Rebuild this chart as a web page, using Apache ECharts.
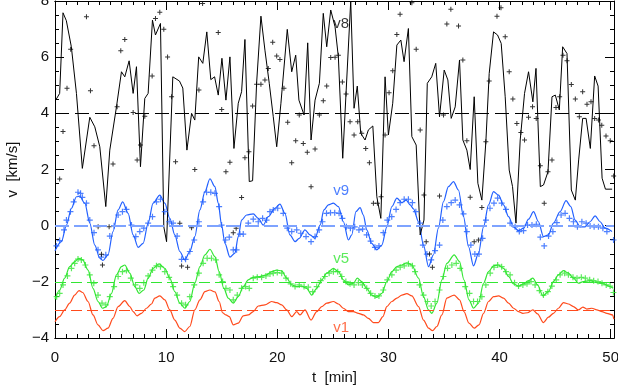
<!DOCTYPE html>
<html>
<head>
<meta charset="utf-8">
<script src="https://cdn.jsdelivr.net/npm/echarts@6/dist/echarts.min.js"></script>
<style>
  html, body { margin: 0; padding: 0; background: #fff; }
  #chart { width: 618px; height: 386px; }
</style>
</head>
<body>
<div id="chart"></div>
<script>
// time axis [min] and velocity axis [km/s]
const xTicks = [0, 10, 20, 30, 40, 50];
const yTicks = [-4, -2, 0, 2, 4, 6, 8];
const baselines = [4, 0, -2, -3]; // v8, v9, v5, v1 reference levels

// v8 (black): line + crosses
const v8Line = [
  [0.06,4.47],[0.42,4.71],[0.72,7.58],[1.02,7.3],[1.47,6.37],[1.93,4.71],[2.46,2.04],[3.13,3.86],
  [3.58,3.52],[4.03,2.81],[4.57,0.68],[4.93,2.69],[5.53,4.23],[5.98,5.48],[6.28,5.3],[6.67,5.87],
  [7.03,4.71],[7.33,5.66],[7.69,2.1],[8.08,4.53],[8.38,4.71],[8.77,7.32],[9.04,6.79],[9.49,7.2],
  [9.79,-0.04],[10.04,-0.57],[10.6,5.3],[11.2,5.15],[11.5,4.9],[11.87,2.69],[12.29,4.0],[12.58,3.76],
  [12.93,6.01],[13.3,5.78],[13.66,6.9],[14.02,5.2],[14.36,5.3],[14.69,4.65],[15.02,5.96],[15.38,4.47],
  [15.74,6.01],[16.1,2.75],[16.49,4.36],[16.79,4.77],[17.09,6.63],[17.48,1.57],[17.78,1.6],[18.14,5.07],
  [18.53,7.46],[18.89,6.25],[19.28,5.07],[19.64,3.88],[19.95,2.81],[20.33,4.36],[20.9,6.99],[21.3,5.48],
  [21.66,6.07],[21.95,4.47],[22.41,3.94],[22.74,6.51],[23.04,3.05],[23.4,4.47],[23.79,5.07],[24.14,7.56],
  [24.45,6.37],[24.81,7.68],[25.2,7.08],[25.5,6.0],[25.89,2.4],[26.61,8.0],[26.91,4.18],[27.2,4.97],
  [27.51,3.29],[27.9,3.05],[28.2,3.41],[28.6,3.55],[28.96,1.03],[29.32,0.26],[29.7,5.3],[30.0,3.23],
  [30.39,4.36],[30.76,6.43],[31.12,6.61],[31.41,5.84],[31.8,7.02],[32.11,3.17],[32.5,2.87],[32.86,-0.33],
  [33.2,0.2],[33.5,5.07],[33.9,5.3],[34.26,5.78],[34.6,3.88],[35.02,5.54],[35.35,5.19],[35.65,3.82],
  [36.01,4.23],[36.4,5.9],[36.7,3.05],[37.06,2.69],[37.36,2.0],[37.72,4.59],[38.05,1.51],[38.41,0.91],
  [38.77,2.99],[39.07,5.42],[39.46,6.9],[39.82,6.79],[40.15,6.49],[40.51,4.59],[40.87,1.98],[41.17,1.39],
  [41.48,0.09],[41.86,3.05],[42.25,4.71],[42.61,5.48],[43.0,4.41],[43.28,5.6],[43.67,1.39],[43.96,1.45],
  [44.36,1.92],[44.72,4.59],[45.02,4.65],[45.38,4.12],[45.68,6.37],[46.07,6.13],[46.46,1.27],[46.82,0.91],
  [47.12,2.34],[47.48,3.82],[47.79,3.82],[48.17,2.75],[48.56,5.33],[48.87,4.97],[49.23,1.69],[49.53,1.3],
  [50.13,1.3]
];
const v8Dots = [
  [0.42,1.66],[0.72,3.35],[1.08,4.89],[1.41,6.28],[2.83,7.44],[3.19,4.8],[3.51,2.85],[3.88,-0.04],
  [4.18,-1.02],[4.27,-1.4],[4.87,-0.04],[5.22,2.2],[5.59,4.23],[5.92,6.23],[6.28,6.63],[7.03,4.03],
  [7.39,2.34],[7.69,2.87],[8.08,3.9],[8.74,5.33],[9.04,7.38],[9.43,7.6],[9.79,6.99],[10.13,6.01],
  [10.49,4.59],[10.85,2.28],[11.23,0.09],[11.39,-1.44],[11.93,-1.48],[12.29,-0.07],[12.58,2.0],[12.95,4.83],
  [13.28,7.91],[14.69,6.88],[15.0,4.14],[15.38,1.92],[15.74,2.26],[16.04,-0.25],[16.3,-0.09],[16.79,1.0],
  [17.09,2.42],[17.45,2.63],[17.78,4.26],[18.14,5.04],[18.53,5.04],[18.89,5.19],[19.19,5.6],[19.59,6.53],
  [19.95,6.04],[20.24,5.92],[20.6,4.89],[20.94,3.68],[21.3,2.24],[21.66,3.02],[21.98,3.94],[22.34,2.93],
  [22.7,2.61],[23.04,1.39],[23.4,2.73],[23.79,3.94],[24.14,4.45],[24.45,4.97],[24.81,5.99],[25.2,6.0],
  [25.5,6.07],[25.86,5.12],[26.19,4.69],[26.55,3.7],[26.91,3.23],[27.24,3.7],[27.6,3.29],[27.96,2.75],
  [28.29,2.24],[28.65,0.8],[29.01,0.8],[29.34,1.03],[29.7,3.23],[30.06,4.73],[30.39,5.52],[30.76,6.81],
  [31.05,7.53],[32.11,7.94],[32.5,6.28],[32.86,3.41],[33.2,1.09],[33.4,-0.57],[33.7,-1.01],[33.96,-1.48],
  [34.6,1.06],[34.96,3.94],[35.26,7.18],[35.62,7.71],[36.31,7.11],[36.7,5.9],[37.06,3.02],[37.36,1.01],
  [37.72,-0.57],[38.1,-0.51],[38.41,0.65],[38.77,2.99],[39.07,5.15],[39.77,7.46],[40.13,7.76],[40.51,6.73],
  [40.87,5.48],[41.2,4.51],[41.56,3.64],[41.92,3.32],[42.25,3.05],[42.61,3.86],[42.97,4.23],[43.3,3.82],
  [43.67,2.13],[44.02,0.8],[44.36,1.92],[44.72,2.34],[45.08,4.21],[45.41,4.59],[45.71,6.07],[46.07,5.87],
  [46.46,5.03],[46.82,4.51],[47.18,3.88],[47.48,4.77],[47.87,4.32],[48.23,4.41],[48.56,3.82],[48.9,3.76],
  [49.2,3.58],[49.58,3.19],[49.96,3.02],[50.27,1.77]
];

// v9 (blue)
const v9Line = [
  [0,-0.89],[0.58,-0.57],[1.03,0.02],[1.48,0.62],[1.93,1.03],[2.23,1.05],[2.68,0.8],[3.13,0.09],
  [3.58,-0.69],[4.03,-1.16],[4.32,-1.24],[4.77,-1.04],[5.22,-0.21],[5.68,0.56],[6.09,0.85],[6.58,0.44],
  [7.03,-0.33],[7.48,-0.77],[7.93,-0.63],[8.38,0.09],[8.83,0.8],[9.43,1.09],[9.88,0.8],[10.33,0.26],
  [10.78,-0.33],[11.23,-0.92],[11.68,-1.22],[12.13,-0.92],[12.58,-0.39],[13.04,0.56],[13.49,1.21],[13.94,1.67],
  [14.39,1.39],[14.69,0.8],[14.99,0.02],[15.29,-0.63],[15.74,-1.12],[16.19,-0.98],[16.49,-0.39],[16.79,0.2],
  [17.24,0.38],[17.84,0.42],[18.29,0.26],[18.74,0.02],[19.19,0.32],[19.79,0.62],[20.24,0.77],[20.69,0.44],
  [21.14,-0.33],[21.6,-0.57],[21.98,-0.45],[22.49,-0.15],[22.95,-0.33],[23.4,-0.45],[23.85,0.02],[24.2,0.56],
  [24.6,0.74],[25.05,0.8],[25.5,0.68],[25.95,0.14],[26.4,-0.51],[26.7,-0.33],[27.08,0.5],[27.45,0.64],
  [27.75,0.38],[28.05,-0.15],[28.5,-0.63],[28.96,-0.86],[29.41,-0.69],[29.86,-0.04],[30.31,0.68],[30.76,0.98],
  [31.21,0.82],[31.6,0.91],[31.96,0.74],[32.26,0.6],[32.71,0.14],[33.16,-0.69],[33.61,-1.46],[34.05,-1.04],
  [34.5,-0.09],[34.95,0.85],[35.4,1.39],[35.86,1.57],[36.3,1.27],[36.76,0.32],[37.21,-0.75],[37.66,-1.43],
  [38.11,-0.98],[38.56,-0.04],[39.01,0.74],[39.46,1.21],[39.91,1.09],[40.36,0.74],[40.81,0.32],[41.26,-0.04],
  [41.71,-0.18],[42.16,-0.09],[42.61,0.23],[43.06,0.5],[43.5,0.14],[43.95,-0.39],[44.4,-0.33],[44.85,0.09],
  [45.45,0.5],[45.99,0.89],[46.41,0.68],[46.8,0.2],[47.26,-0.04],[47.7,-0.04],[48.15,0.14],[48.6,0.35],
  [49.05,0.14],[49.5,-0.09],[50.12,-0.21]
];
const v9Dots = [
  [0.13,-0.72],[0.42,-0.53],[0.81,-0.15],[1.03,0.2],[1.39,0.5],[1.68,0.85],[2.07,1.19],[2.3,1.15],
  [2.46,1.01],[2.83,0.8],[3.13,0.2],[3.51,-0.25],[3.87,-0.86],[4.17,-1.12],[4.57,-1.04],[4.93,-0.37],
  [5.32,0.0],[5.68,0.38],[6.07,0.5],[6.43,0.58],[6.88,0.02],[7.27,-0.39],[7.63,-0.21],[7.99,-0.09],
  [8.38,0.09],[8.77,0.32],[9.13,0.85],[9.49,0.94],[9.88,0.5],[10.27,0.14],[10.63,0.09],[10.99,-0.37],
  [11.39,-1.2],[11.75,-1.2],[12.13,-0.92],[12.53,-0.51],[12.95,0.14],[13.33,0.85],[13.64,1.19],[14.02,1.19],
  [14.39,1.15],[14.77,0.68],[14.99,0.02],[15.35,-0.51],[15.68,-0.41],[16.04,-0.86],[16.34,-0.86],[16.64,-0.3],
  [16.94,-0.3],[17.39,0.09],[17.84,0.23],[18.29,0.14],[18.68,0.26],[19.04,0.2],[19.34,0.5],[19.64,0.56],
  [20.04,0.62],[20.54,0.44],[20.9,-0.09],[21.3,-0.21],[21.75,-0.15],[22.11,-0.27],[22.59,-0.39],[23.04,-0.57],
  [23.4,-0.39],[23.77,-0.15],[24.07,0.14],[24.43,0.44],[24.79,0.46],[25.17,0.46],[25.56,0.44],[25.86,0.26],
  [26.22,-0.04],[26.58,-0.09],[26.97,-0.04],[27.35,-0.15],[27.68,-0.12],[28.04,-0.33],[28.4,-0.55],[28.79,-0.77],
  [29.15,-0.72],[29.54,-0.25],[29.9,0.2],[30.3,0.32],[30.69,0.58],[31.06,0.82],[31.42,0.94],[31.8,0.94],
  [32.16,0.82],[32.47,0.5],[32.85,0.09],[33.1,-0.69],[33.46,-1.01],[33.85,-1.22],[34.2,-0.89],[34.6,-0.69],
  [34.9,0.2],[35.26,0.68],[35.65,0.82],[36.01,0.91],[36.4,0.74],[36.76,0.42],[37.06,-0.21],[37.42,-0.69],
  [37.78,-1.01],[38.15,-1.01],[38.48,-0.45],[38.78,0.2],[39.14,0.62],[39.5,0.8],[39.83,0.98],[40.19,0.8],
  [40.58,0.58],[40.95,0.09],[41.4,-0.04],[41.78,-0.21],[42.16,-0.18],[42.52,0.02],[42.92,0.02],[43.31,0.05],
  [43.67,-0.41],[44.02,-0.72],[44.41,-0.37],[44.8,-0.21],[45.16,0.11],[45.54,0.38],[45.9,0.44],[46.29,0.26],
  [46.65,0.14],[47.01,-0.04],[47.41,0.14],[47.79,0.09],[48.15,-0.01],[48.51,-0.04],[48.9,-0.04],[49.3,-0.09],
  [49.66,-0.21],[50.26,-0.51]
];

// v5 (green)
const v5Line = [
  [0,-2.62],[0.42,-2.29],[0.87,-1.87],[1.32,-1.46],[1.77,-1.28],[2.16,-1.16],[2.49,-1.22],[2.97,-1.58],
  [3.42,-2.23],[3.87,-2.7],[4.27,-2.94],[4.63,-2.88],[5.08,-2.41],[5.53,-1.75],[5.98,-1.46],[6.28,-1.4],
  [6.73,-1.69],[7.18,-2.17],[7.57,-2.41],[7.99,-2.29],[8.38,-1.87],[8.83,-1.52],[9.37,-1.36],[9.88,-1.52],
  [10.33,-1.87],[10.78,-2.35],[11.23,-2.76],[11.68,-2.94],[12.13,-2.7],[12.58,-2.05],[13.04,-1.46],[13.49,-1.04],
  [13.94,-0.84],[14.39,-1.1],[14.77,-1.64],[15.19,-2.23],[15.59,-2.58],[16.04,-2.76],[16.49,-2.53],[16.94,-2.17],
  [17.39,-1.93],[17.84,-1.84],[18.44,-1.81],[19.04,-1.75],[19.49,-1.64],[19.95,-1.58],[20.4,-1.61],[20.85,-1.87],
  [21.3,-2.11],[21.75,-2.17],[22.2,-2.15],[22.65,-2.23],[23.1,-2.47],[23.55,-2.23],[24.0,-1.93],[24.45,-1.69],
  [25.05,-1.52],[25.5,-1.64],[25.95,-1.93],[26.4,-2.11],[26.85,-2.05],[27.2,-1.87],[27.6,-1.99],[28.05,-2.23],
  [28.5,-2.47],[28.96,-2.55],[29.41,-2.41],[29.86,-1.99],[30.31,-1.64],[30.76,-1.46],[31.21,-1.4],[31.66,-1.32],
  [32.11,-1.4],[32.71,-1.87],[33.16,-2.53],[33.61,-3.0],[33.91,-3.12],[34.36,-2.76],[34.81,-1.93],[35.26,-1.34],
  [35.92,-1.04],[36.4,-1.28],[36.8,-1.93],[37.25,-2.64],[37.66,-2.94],[38.11,-2.76],[38.56,-2.05],[39.01,-1.64],
  [39.46,-1.43],[39.91,-1.4],[40.36,-1.52],[40.81,-1.81],[41.26,-2.07],[41.71,-2.15],[42.16,-2.07],[42.61,-1.96],
  [43.0,-1.87],[43.42,-2.11],[43.9,-2.5],[44.4,-2.35],[44.85,-1.99],[45.3,-1.75],[45.75,-1.6],[46.2,-1.69],
  [46.65,-1.87],[47.1,-2.05],[47.55,-1.99],[48.15,-1.96],[48.75,-2.03],[49.35,-2.07],[49.95,-2.17],[50.24,-2.23]
];
const v5Dots = [
  [0.15,-2.53],[0.42,-2.41],[0.72,-2.11],[1.12,-1.79],[1.48,-1.52],[1.77,-1.34],[2.07,-1.19],[2.37,-1.22],
  [2.73,-1.4],[3.13,-1.75],[3.49,-2.05],[3.87,-2.47],[4.23,-2.76],[4.57,-2.82],[4.93,-2.53],[5.32,-2.17],
  [5.68,-1.81],[6.07,-1.64],[6.43,-1.6],[6.82,-1.87],[7.24,-2.11],[7.63,-2.23],[7.99,-2.03],[8.38,-1.79],
  [8.77,-1.58],[9.13,-1.43],[9.49,-1.46],[9.88,-1.64],[10.27,-1.84],[10.63,-2.17],[10.99,-2.47],[11.39,-2.76],
  [11.75,-2.82],[12.13,-2.53],[12.53,-2.11],[12.95,-1.69],[13.33,-1.34],[13.69,-1.16],[14.08,-1.16],[14.47,-1.22],
  [14.77,-1.75],[15.08,-1.99],[15.38,-2.23],[15.74,-2.29],[16.04,-2.64],[16.4,-2.47],[16.79,-2.23],[17.15,-2.17],
  [17.48,-2.23],[17.84,-1.87],[18.2,-1.84],[18.59,-1.84],[18.98,-1.79],[19.34,-1.72],[19.64,-1.69],[20.0,-1.67],
  [20.4,-1.69],[20.79,-1.87],[21.21,-2.07],[21.6,-2.17],[21.98,-2.11],[22.41,-2.17],[22.79,-2.19],[23.19,-2.35],
  [23.55,-2.17],[23.91,-1.96],[24.28,-1.81],[24.67,-1.69],[25.05,-1.64],[25.44,-1.64],[25.8,-1.81],[26.17,-1.99],
  [26.55,-2.07],[26.91,-2.11],[27.3,-2.03],[27.66,-2.11],[28.05,-2.23],[28.4,-2.41],[28.79,-2.5],[29.15,-2.5],
  [29.54,-2.29],[29.9,-1.93],[30.31,-1.75],[30.69,-1.58],[31.06,-1.48],[31.42,-1.43],[31.8,-1.36],[32.16,-1.43],
  [32.4,-1.64],[32.8,-2.11],[33.16,-2.47],[33.52,-2.7],[33.85,-2.86],[34.2,-2.7],[34.6,-2.29],[34.95,-1.81],
  [35.32,-1.52],[35.71,-1.4],[36.1,-1.34],[36.46,-1.52],[36.91,-2.17],[37.3,-2.41],[37.66,-2.7],[38.02,-2.7],
  [38.41,-2.53],[38.77,-2.11],[39.16,-1.69],[39.5,-1.48],[39.83,-1.4],[40.19,-1.46],[40.58,-1.64],[40.95,-1.75],
  [41.35,-2.03],[41.71,-2.15],[42.1,-2.11],[42.47,-2.07],[42.83,-1.99],[43.2,-2.11],[43.59,-2.31],[43.95,-2.47],
  [44.35,-2.35],[44.71,-2.15],[45.1,-1.93],[45.45,-1.75],[45.86,-1.69],[46.2,-1.75],[46.61,-1.84],[46.97,-1.87],
  [47.36,-1.84],[47.72,-1.87],[48.11,-1.93],[48.47,-1.96],[48.86,-1.99],[49.22,-2.05],[49.6,-2.11],[49.95,-2.15],
  [50.25,-2.38]
];

// v1 (red), line only
const v1Line = [
  [0,-3.42],[0.42,-3.24],[0.87,-3.0],[1.32,-2.76],[1.77,-2.47],[2.16,-2.31],[2.49,-2.38],[2.97,-2.7],
  [3.42,-3.18],[3.87,-3.53],[4.32,-3.74],[4.77,-3.65],[5.22,-3.3],[5.68,-2.88],[6.28,-2.67],[6.73,-2.88],
  [7.03,-3.06],[7.39,-3.21],[7.78,-3.12],[8.23,-2.94],[8.68,-2.79],[8.98,-2.58],[9.43,-2.5],[9.88,-2.64],
  [10.33,-3.0],[10.78,-3.36],[11.23,-3.65],[11.68,-3.77],[12.13,-3.59],[12.58,-3.0],[13.04,-2.64],[13.49,-2.35],
  [13.94,-2.29],[14.39,-2.36],[14.77,-2.7],[15.08,-3.1],[15.38,-3.18],[15.68,-3.24],[16.04,-3.53],[16.49,-3.47],
  [16.94,-3.21],[17.39,-3.18],[17.84,-3.06],[18.29,-2.86],[18.89,-2.82],[19.49,-2.7],[19.95,-2.74],[20.4,-2.82],
  [20.85,-3.0],[21.3,-3.24],[21.75,-3.06],[22.05,-3.18],[22.49,-3.0],[23.04,-3.36],[23.55,-3.06],[24.0,-2.88],
  [24.45,-2.76],[25.05,-2.7],[25.5,-2.79],[25.95,-2.94],[26.4,-3.06],[26.85,-3.06],[27.3,-3.12],[27.75,-3.18],
  [28.2,-3.3],[28.65,-3.45],[29.1,-3.45],[29.5,-3.24],[29.86,-2.88],[30.31,-2.7],[30.76,-2.58],[31.21,-2.47],
  [31.66,-2.42],[32.11,-2.5],[32.71,-2.88],[33.16,-3.36],[33.61,-3.65],[33.97,-3.74],[34.36,-3.59],[34.81,-3.18],
  [35.26,-2.58],[35.92,-2.47],[36.4,-2.64],[36.8,-3.06],[37.25,-3.47],[37.72,-3.65],[38.15,-3.53],[38.56,-3.12],
  [39.01,-2.7],[39.46,-2.53],[39.91,-2.5],[40.36,-2.58],[40.81,-2.76],[41.26,-2.94],[41.71,-3.06],[42.1,-3.12],
  [42.52,-3.1],[43.0,-3.0],[43.42,-3.14],[43.95,-3.45],[44.4,-3.26],[44.85,-3.12],[45.3,-2.94],[45.75,-2.74],
  [46.2,-2.79],[46.65,-2.88],[47.1,-3.0],[47.5,-2.9],[47.86,-2.97],[48.31,-2.94],[48.75,-3.0],[49.22,-3.06],
  [49.66,-3.12],[50.17,-3.18],[50.29,-3.33]
];

// curve names written inside the plot: [text, t, v]
const seriesTags = [['v8', 25.74, 7.18], ['v9', 25.74, 1.23], ['v5', 25.74, -1.19], ['v1', 25.74, -3.64]];

const C_BLACK = '#000000', C_BLUE = '#2260ff', C_GREEN = '#33e633', C_RED = '#ff4a1c';
const tagColors = [C_BLACK, C_BLUE, C_GREEN, C_RED];
const FONT = 'Liberation Sans';
const PLUS = 'path://M2,0H3V5H2ZM0,2H5V3H0Z';

const chart = echarts.init(document.getElementById('chart'), null, { renderer: 'canvas' });

// common axis bits: frame on all four sides, ticks pointing inward
function xAx(opts) {
  return Object.assign({
    type: 'value', min: 0, max: 50.3, gridIndex: 0,
    axisLine: { show: true, onZero: false, lineStyle: { color: '#000', width: 1 } },
    splitLine: { show: false },
    axisLabel: { show: false }
  }, opts);
}
function yAx(opts) {
  return Object.assign({
    type: 'value', min: -4, max: 8, interval: 2,
    axisLine: { show: true, onZero: false, lineStyle: { color: '#000', width: 1 } },
    splitLine: { show: false },
    axisTick: { show: true, inside: true, length: 9, lineStyle: { color: '#000' } },
    minorTick: { show: true, splitNumber: 4, length: 4, lineStyle: { color: '#000' } },
    axisLabel: { show: false }
  }, opts);
}
const minus = v => (v < 0 ? '\u2212' + (-v) : String(v));

const option = {
  animation: false,
  backgroundColor: '#fff',
  grid: { left: 55, right: 4, top: 1, bottom: 48, containLabel: false, outerBoundsMode: 'none' },
  xAxis: [
    // main bottom axis with labels (major ticks)
    xAx({
      position: 'bottom', interval: 10,
      axisTick: { show: true, inside: true, length: 9, lineStyle: { color: '#000' } },
      axisLabel: {
        show: true, margin: 12, color: '#111', fontFamily: FONT, fontSize: 15,
        formatter: v => (xTicks.indexOf(v) >= 0 ? String(v) : '')
      },
      name: 't  [min]', nameLocation: 'middle', nameGap: 28,
      nameTextStyle: { color: '#111', fontFamily: FONT, fontSize: 15 }
    }),
    // bottom minor ticks
    xAx({ position: 'bottom', interval: 1,
      axisTick: { show: true, inside: true, length: 4, lineStyle: { color: '#000' } } }),
    // top frame, major + minor ticks
    xAx({ position: 'top', interval: 10,
      axisTick: { show: true, inside: true, length: 9, lineStyle: { color: '#000' } } }),
    xAx({ position: 'top', interval: 1,
      axisTick: { show: true, inside: true, length: 4, lineStyle: { color: '#000' } } })
  ],
  yAxis: [
    yAx({
      position: 'left',
      axisLabel: { show: true, margin: 6, color: '#111', fontFamily: FONT, fontSize: 15,
        formatter: v => (yTicks.indexOf(v) >= 0 ? minus(v) : '') },
      name: 'v  [km/s]', nameLocation: 'middle', nameGap: 35, nameRotate: 90,
      nameTextStyle: { color: '#111', fontFamily: FONT, fontSize: 15 }
    }),
    yAx({ position: 'right' })
  ],
  series: []
};

function lineSeries(name, data, color, width, smooth) {
  return {
    name: name, type: 'line', data: data, xAxisIndex: 0, yAxisIndex: 0,
    symbol: 'none', smooth: smooth, smoothMonotone: 'x',
    lineStyle: { color: color, width: width }, z: 3
  };
}
function dotSeries(name, data, color, size) {
  return {
    name: name, type: 'scatter', data: data, xAxisIndex: 0, yAxisIndex: 0,
    symbol: PLUS, symbolSize: size, itemStyle: { color: color }, z: 4
  };
}
function baseLine(level, color, width, dash) {
  return {
    type: 'line', data: [], xAxisIndex: 0, yAxisIndex: 0, z: 2,
    markLine: {
      silent: true, symbol: 'none', label: { show: false },
      lineStyle: { color: color, width: width, type: dash },
      data: [{ yAxis: level }]
    }
  };
}

option.series.push(
  baseLine(baselines[3], C_RED, 1, [11, 5]),
  baseLine(baselines[2], C_GREEN, 1, [11, 5]),
  baseLine(baselines[1], '#7ea3ff', 2.2, [14, 5]),
  baseLine(baselines[0], C_BLACK, 1, [14, 6]),
  lineSeries('v1', v1Line, C_RED, 1.2, 0.3),
  lineSeries('v5', v5Line, C_GREEN, 1.2, 0.3),
  dotSeries('v5 obs', v5Dots, C_GREEN, 6),
  lineSeries('v9', v9Line, C_BLUE, 1.2, 0.3),
  dotSeries('v9 obs', v9Dots, C_BLUE, 6),
  lineSeries('v8', v8Line, C_BLACK, 1, false),
  dotSeries('v8 obs', v8Dots, C_BLACK, 5),
  {
    type: 'scatter', xAxisIndex: 0, yAxisIndex: 0, symbolSize: 0, z: 6, silent: true,
    data: seriesTags.map((s, i) => ({
      value: [s[1], s[2]], name: s[0],
      label: { show: true, position: 'inside', formatter: s[0], color: tagColors[i],
        fontFamily: FONT, fontSize: 15 }
    }))
  }
);

chart.setOption(option);
</script>
</body>
</html>
